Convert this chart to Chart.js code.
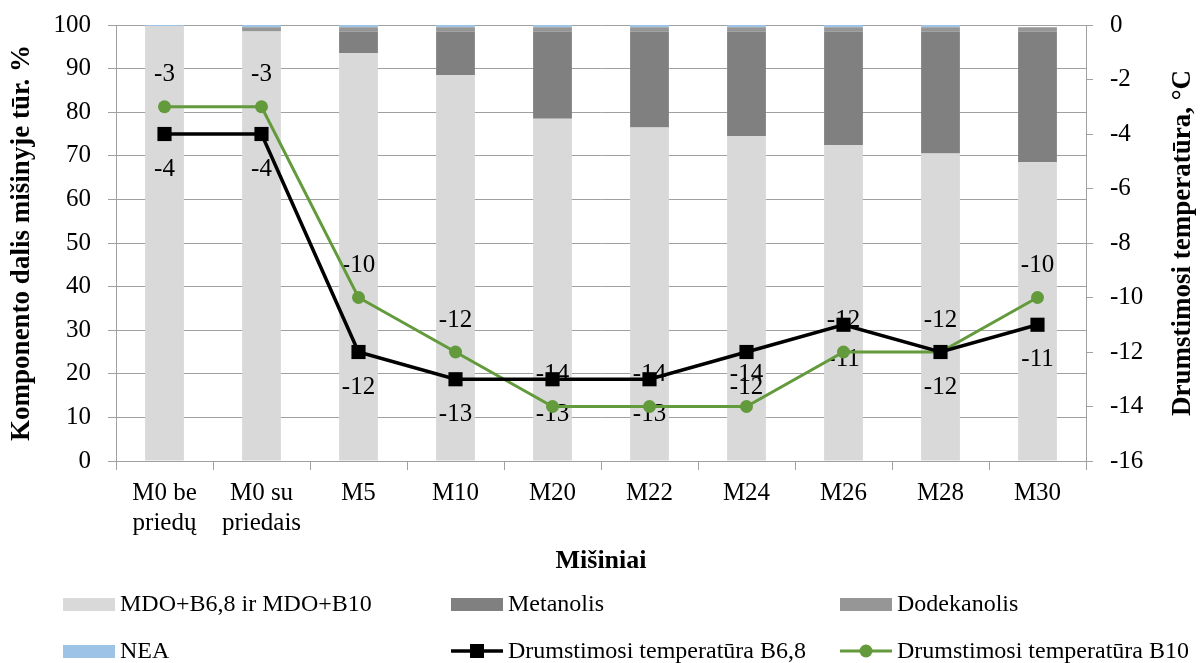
<!DOCTYPE html>
<html>
<head>
<meta charset="utf-8">
<script src="https://cdn.jsdelivr.net/npm/chart.js@4.4.1/dist/chart.umd.min.js"></script>
<style>
  html, body { margin: 0; padding: 0; background: #fff; }
</style>
</head>
<body>
<canvas id="myChart" width="1201" height="663"></canvas>
<script>
"use strict";

// categories (x axis)
const categories = [["M0 be", "priedų"], ["M0 su", "priedais"], "M5", "M10", "M20", "M22", "M24", "M26", "M28", "M30"];

// stacked bars, % vol. (left axis)
const mdo = [99.75, 98.5, 93.5, 88.5, 78.5, 76.5, 74.5, 72.5, 70.5, 68.5];
const metanolis = [0, 0, 5, 10, 20, 22, 24, 26, 28, 30];
const dodekanolis = [0, 1, 1, 1, 1, 1, 1, 1, 1, 1];
const nea = [0.25, 0.5, 0.5, 0.5, 0.5, 0.5, 0.5, 0.5, 0.5, 0];

// cloud point, °C (right axis)
const cloudB68 = [-4, -4, -12, -13, -13, -13, -12, -11, -12, -11];
const cloudB10 = [-3, -3, -10, -12, -14, -14, -14, -12, -12, -10];

const leftTicks = { min: 0, max: 100, step: 10 };
const rightTicks = { min: -16, max: 0, step: 2 };

const FONT = "'Liberation Serif', 'Times New Roman', serif";
const GRID = "#a0a0a0";
const GREEN = "#639a3c";

Chart.defaults.font.family = FONT;
Chart.defaults.color = "#000";

// value labels: B10 above the point, B6,8 below (drawn after bars, under the lines)
const valueLabels = {
  id: "valueLabels",
  afterDatasetDraw(chart, args) {
    if (args.index !== 0) return; // last bar drawn
    const ctx = chart.ctx;
    ctx.save();
    ctx.font = "25px " + FONT;
    ctx.fillStyle = "#000";
    ctx.textAlign = "center";
    ctx.textBaseline = "middle";
    [[4, 35], [5, -32]].forEach(([di, off]) => {
      const meta = chart.getDatasetMeta(di);
      meta.data.forEach((pt, i) => {
        ctx.fillText(String(chart.data.datasets[di].data[i]), pt.x, pt.y + off);
      });
    });
    ctx.restore();
  }
};

// legend grid under the chart + right axis title (reads bottom to top)
const extras = {
  id: "extras",
  afterDraw(chart) {
    const ctx = chart.ctx;
    const ds = chart.data.datasets;
    const cols = [63, 451, 840];
    const rows = [604, 651];
    ctx.save();
    ctx.font = "24px " + FONT;
    ctx.textBaseline = "middle";
    ctx.textAlign = "left";
    ds.forEach((d, i) => {
      const x = cols[i % 3], y = rows[Math.floor(i / 3)];
      if (d.type === "line") {
        ctx.strokeStyle = d.borderColor;
        ctx.lineWidth = d.borderWidth;
        ctx.beginPath();
        ctx.moveTo(x, y);
        ctx.lineTo(x + 52, y);
        ctx.stroke();
        ctx.fillStyle = d.pointBackgroundColor;
        if (d.pointStyle === "rect") {
          ctx.fillRect(x + 26 - 7, y - 7, 14, 14);
        } else {
          ctx.beginPath();
          ctx.arc(x + 26, y, 6.5, 0, Math.PI * 2);
          ctx.fill();
        }
      } else {
        ctx.fillStyle = d.backgroundColor;
        ctx.fillRect(x, y - 6, 52, 13);
      }
      ctx.fillStyle = "#000";
      ctx.fillText(d.label, x + 57, y + 1);
    });

    ctx.font = "bold 27px " + FONT;
    ctx.textAlign = "center";
    ctx.translate(1183, (chart.chartArea.top + chart.chartArea.bottom) / 2);
    ctx.rotate(-Math.PI / 2);
    ctx.fillText("Drumstimosi temperatūra, °C", 0, 0);
    ctx.restore();
  }
};

function myChart() {
  const ctx = document.getElementById("myChart").getContext("2d");
  return new Chart(ctx, {
    data: {
      labels: categories,
      datasets: [
        { type: "bar", label: "MDO+B6,8 ir MDO+B10", data: mdo, backgroundColor: "#d9d9d9", yAxisID: "y", order: 1, barPercentage: 0.4, categoryPercentage: 1 },
        { type: "bar", label: "Metanolis", data: metanolis, backgroundColor: "#808080", yAxisID: "y", order: 1, barPercentage: 0.4, categoryPercentage: 1 },
        { type: "bar", label: "Dodekanolis", data: dodekanolis, backgroundColor: "#969696", yAxisID: "y", order: 1, barPercentage: 0.4, categoryPercentage: 1 },
        { type: "bar", label: "NEA", data: nea, backgroundColor: "#9dc3e6", yAxisID: "y", order: 1, barPercentage: 0.4, categoryPercentage: 1 },
        { type: "line", label: "Drumstimosi temperatūra B6,8", data: cloudB68, yAxisID: "y1", order: 0,
          borderColor: "#000", borderWidth: 3.5, pointStyle: "rect", pointRadius: 10, pointBackgroundColor: "#000", pointBorderWidth: 0, tension: 0 },
        { type: "line", label: "Drumstimosi temperatūra B10", data: cloudB10, yAxisID: "y1", order: 0,
          borderColor: GREEN, borderWidth: 3, pointStyle: "circle", pointRadius: 6.5, pointBackgroundColor: GREEN, pointBorderWidth: 0, tension: 0 }
      ]
    },
    options: {
      responsive: false,
      animation: false,
      layout: { padding: { top: 25, bottom: 82, left: 0, right: 0 } },
      plugins: { legend: { display: false }, tooltip: { enabled: false } },
      scales: {
        x: {
          stacked: true,
          offset: true,
          grid: { offset: true, drawOnChartArea: false, drawTicks: true, tickLength: 9, color: GRID },
          border: { color: GRID },
          ticks: { font: { size: 25, lineHeight: 1.2 }, padding: 8, maxRotation: 0, autoSkip: false },
          title: { display: true, text: "Mišiniai", font: { size: 26, weight: "bold", lineHeight: 1.2 }, padding: { top: 4 } },
          afterFit: s => { s.height = 120; }
        },
        y: {
          position: "left",
          stacked: true,
          min: leftTicks.min, max: leftTicks.max,
          grid: { color: GRID, tickLength: 8 },
          border: { color: GRID },
          ticks: { stepSize: leftTicks.step, font: { size: 25 }, padding: 17 },
          title: { display: true, text: "Komponento dalis mišinyje tūr. %", font: { size: 27, weight: "bold", lineHeight: 1.2 }, padding: { top: 6 } },
          afterFit: s => { s.width = 116; s.paddingTop = 0; s.paddingBottom = 0; }
        },
        y1: {
          position: "right",
          min: rightTicks.min, max: rightTicks.max,
          grid: { drawOnChartArea: false, color: GRID, tickLength: 7 },
          border: { color: GRID },
          ticks: { stepSize: rightTicks.step, font: { size: 25 }, padding: 17 },
          afterFit: s => { s.width = 115; s.paddingTop = 0; s.paddingBottom = 0; }
        }
      }
    },
    plugins: [valueLabels, extras]
  });
}

myChart();
</script>
</body>
</html>
